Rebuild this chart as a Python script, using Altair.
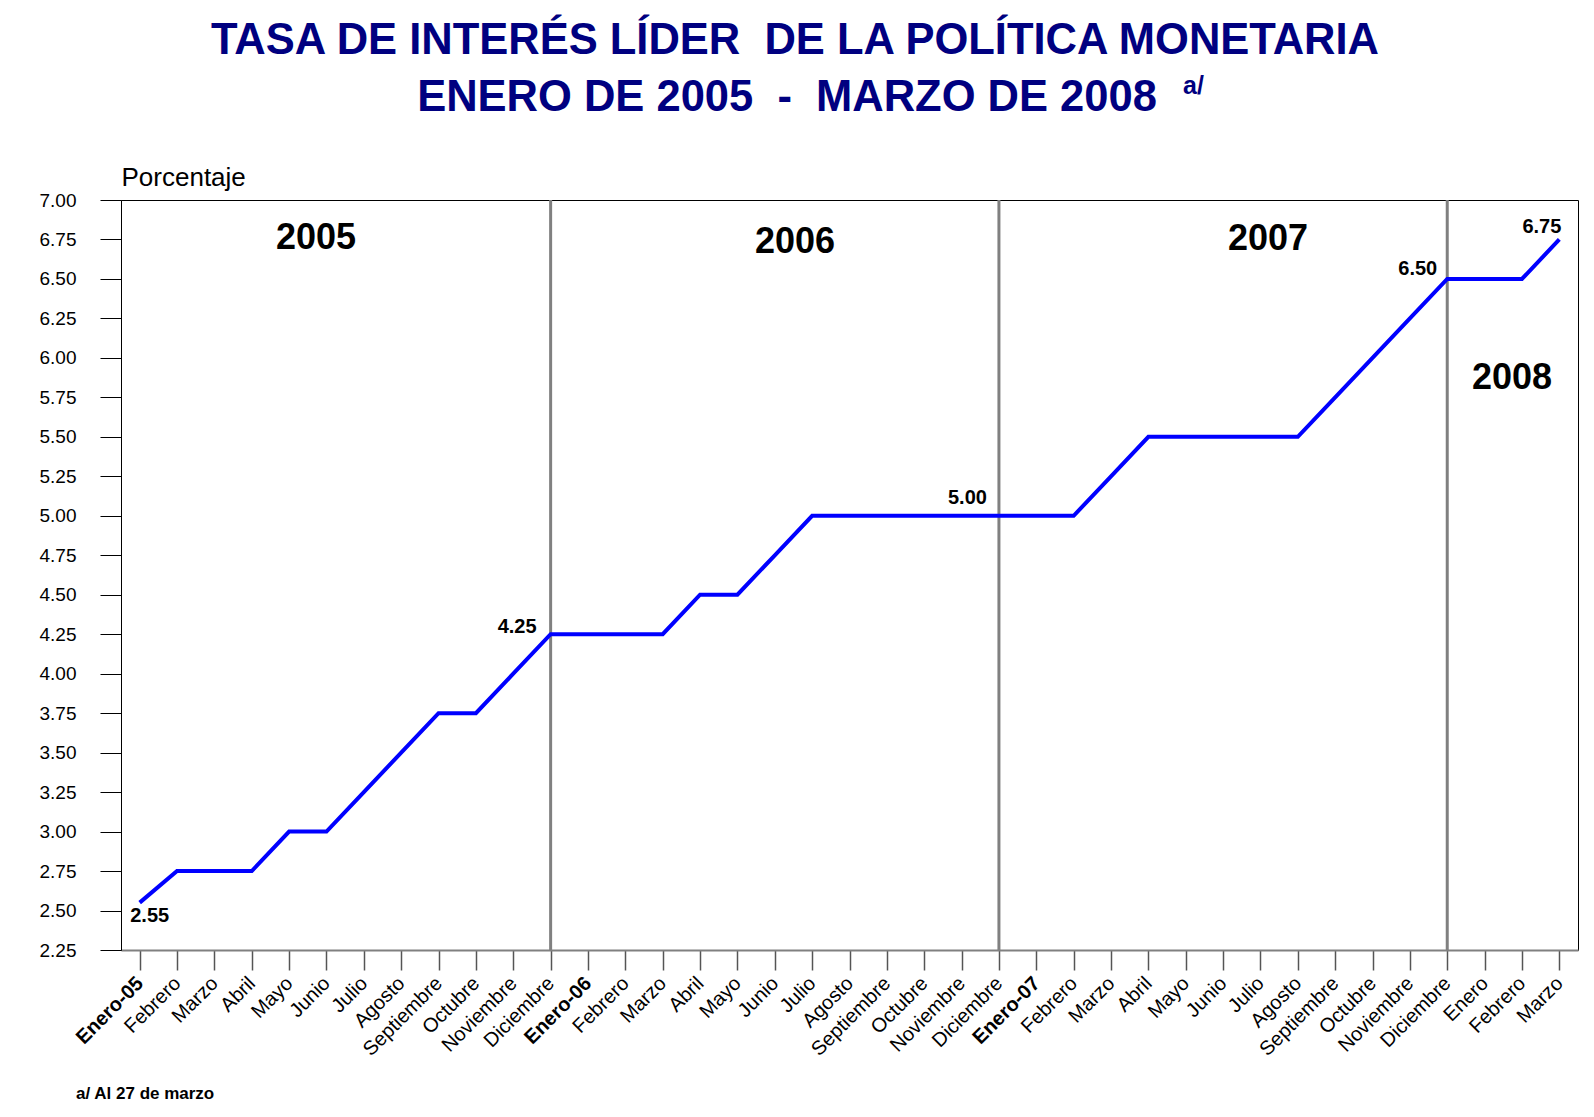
import json
import altair as alt
import pandas as pd

# ---- data -------------------------------------------------------------
month_labels = [
    "Enero-05", "Febrero", "Marzo", "Abril", "Mayo", "Junio", "Julio", "Agosto",
    "Septiembre", "Octubre", "Noviembre", "Diciembre",
    "Enero-06", "Febrero", "Marzo", "Abril", "Mayo", "Junio", "Julio", "Agosto",
    "Septiembre", "Octubre", "Noviembre", "Diciembre",
    "Enero-07", "Febrero", "Marzo", "Abril", "Mayo", "Junio", "Julio", "Agosto",
    "Septiembre", "Octubre", "Noviembre", "Diciembre",
    "Enero", "Febrero", "Marzo",
]
tasa_2005 = [2.55, 2.75, 2.75, 2.75, 3.00, 3.00, 3.25, 3.50, 3.75, 3.75, 4.00, 4.25]
tasa_2006 = [4.25, 4.25, 4.25, 4.50, 4.50, 4.75, 5.00, 5.00, 5.00, 5.00, 5.00, 5.00]
tasa_2007 = [5.00, 5.00, 5.25, 5.50, 5.50, 5.50, 5.50, 5.50, 5.75, 6.00, 6.25, 6.50]
tasa_2008 = [6.50, 6.50, 6.75]

year_end_idx = [11, 23, 35]          # Diciembre 2005, 2006, 2007
bold_idx = [0, 12, 24]               # Enero-05, Enero-06, Enero-07
y_ticks = [2.25 + 0.25 * i for i in range(20)]

tasa = tasa_2005 + tasa_2006 + tasa_2007 + tasa_2008
df = pd.DataFrame({"idx": list(range(len(month_labels))), "tasa": tasa})
df_rules = pd.DataFrame({"idx": year_end_idx})
one = pd.DataFrame({"k": [0]})

FONT = "Liberation Sans"
NAVY = "#000080"
NB = "\u00a0"

x_enc = alt.X(
    "idx:O",
    scale=alt.Scale(type="point", padding=0.5),
    axis=alt.Axis(
        title=None,
        labelExpr=json.dumps(month_labels) + "[datum.value]",
        labelAngle=-45,
        labelAlign="right",
        labelBaseline="middle",
        labelPadding=10,
        labelFontSize=20,
        labelFont=FONT,
        labelColor="black",
        labelFontWeight={
            "condition": {"test": "indexof(" + json.dumps(bold_idx) + ", datum.value) >= 0",
                          "value": "bold"},
            "value": "normal",
        },
        tickSize=20,
        tickColor="#555555",
        tickWidth=1.5,
        domainColor="#808080",
        domainWidth=2,
        grid=False,
    ),
)
y_enc = alt.Y(
    "tasa:Q",
    scale=alt.Scale(domain=[2.25, 7.0], nice=False, zero=False),
    axis=alt.Axis(
        title="Porcentaje",
        titleAngle=0,
        titleAlign="left",
        titleBaseline="alphabetic",
        titleX=0,
        titleY=-15,
        titleFontSize=26,
        titleFontWeight="normal",
        titleFont=FONT,
        titleColor="black",
        values=y_ticks,
        format=".2f",
        labelFontSize=19,
        labelFont=FONT,
        labelColor="black",
        labelPadding=24,
        tickSize=21,
        tickColor="black",
        domainColor="black",
        grid=False,
    ),
)

base = alt.Chart(df)

rules = alt.Chart(df_rules).mark_rule(color="#808080", strokeWidth=3).encode(x=x_enc)

line = base.mark_line(color="#0000FF", strokeWidth=4).encode(x=x_enc, y=y_enc)


def value_label(i, align, dx, dy):
    return base.transform_filter(alt.datum.idx == i).mark_text(
        align=align, baseline="alphabetic", dx=dx, dy=dy,
        fontSize=20, fontWeight="bold", font=FONT, color="black",
    ).encode(x=x_enc, y=y_enc, text=alt.Text("tasa:Q", format=".2f"))


labels = [
    value_label(0, "center", 10, 19),
    value_label(11, "right", -14, -1),
    value_label(23, "right", -12, -12),
    value_label(35, "right", -10, -4),
    value_label(38, "right", 2, -6),
]


def note(text, x, y, size, weight="bold", color="black", align="center"):
    return alt.Chart(one).mark_text(
        text=text, align=align, baseline="alphabetic", fontSize=size,
        fontWeight=weight, font=FONT, color=color,
    ).encode(x=alt.value(x), y=alt.value(y))


notes = [
    note("TASA DE INTERÉS LÍDER " + NB + "DE LA POLÍTICA MONETARIA", 674, -146, 43.5, color=NAVY),
    note("ENERO DE 2005 " + NB + "- " + NB + "MARZO DE 2008", 666, -89, 43.5, color=NAVY),
    note("a/", 1062, -106, 25, color=NAVY, align="left"),
    note("2005", 195, 49, 36),
    note("2006", 674, 53, 36),
    note("2007", 1147, 50, 36),
    note("2008", 1391, 189, 36),
    note("a/ Al 27 de marzo", -45, 899, 17, align="left"),
]

chart = alt.layer(rules, line, *labels, *notes).properties(
    width=1457,
    height=750,
    autosize=alt.AutoSizeParams(type="none"),
    padding={"left": 113, "top": 192, "right": 8, "bottom": 154},
    background="white",
).configure_view(stroke="black", strokeWidth=1)

chart.save("out.html", embed_options={"renderer": "svg", "actions": False})
